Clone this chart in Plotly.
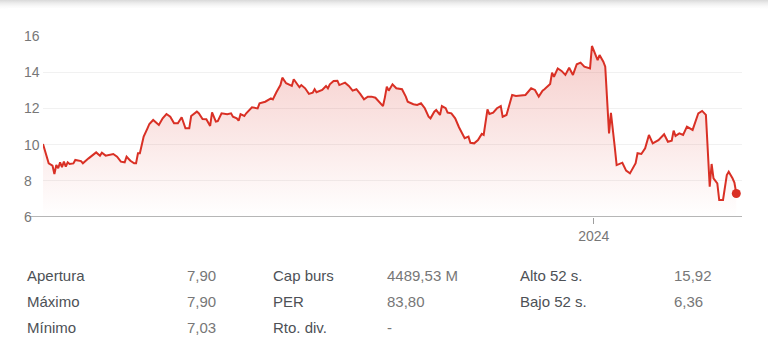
import plotly.graph_objects as go

# ---------------- data ----------------
dates = [
 "2023-03-17","2023-03-19","2023-03-20","2023-03-22","2023-03-23","2023-03-24","2023-03-25","2023-03-26","2023-03-27","2023-03-28",
 "2023-03-29","2023-03-30","2023-03-31","2023-04-02","2023-04-03","2023-04-06","2023-04-07","2023-04-10","2023-04-13","2023-04-14",
 "2023-04-16","2023-04-17","2023-04-19","2023-04-21","2023-04-23","2023-04-25","2023-04-27","2023-04-29","2023-04-30","2023-05-02",
 "2023-05-04","2023-05-05","2023-05-06","2023-05-07","2023-05-09","2023-05-11","2023-05-12","2023-05-14","2023-05-17","2023-05-19",
 "2023-05-21","2023-05-23","2023-05-25","2023-05-27","2023-05-29","2023-05-31","2023-06-02","2023-06-03","2023-06-06","2023-06-07",
 "2023-06-09","2023-06-11","2023-06-13","2023-06-14","2023-06-16","2023-06-17","2023-06-19","2023-06-22","2023-06-24","2023-06-25",
 "2023-06-27","2023-06-28","2023-06-29","2023-07-01","2023-07-02","2023-07-05","2023-07-08","2023-07-09","2023-07-12","2023-07-15",
 "2023-07-16","2023-07-18","2023-07-20","2023-07-21","2023-07-23","2023-07-26","2023-07-27","2023-07-30","2023-07-31","2023-08-02",
 "2023-08-04","2023-08-06","2023-08-07","2023-08-08","2023-08-11","2023-08-13","2023-08-14","2023-08-15","2023-08-17","2023-08-19",
 "2023-08-20","2023-08-23","2023-08-25","2023-08-27","2023-08-29","2023-08-31","2023-09-02","2023-09-04","2023-09-06","2023-09-08",
 "2023-09-11","2023-09-12","2023-09-13","2023-09-14","2023-09-15","2023-09-17","2023-09-19","2023-09-22","2023-09-24","2023-09-25",
 "2023-09-28","2023-09-30","2023-10-02","2023-10-04","2023-10-06","2023-10-07","2023-10-09","2023-10-10","2023-10-12","2023-10-13",
 "2023-10-15","2023-10-16","2023-10-18","2023-10-20","2023-10-22","2023-10-24","2023-10-25","2023-10-27","2023-10-28","2023-10-30",
 "2023-11-01","2023-11-03","2023-11-04","2023-11-06","2023-11-07","2023-11-09","2023-11-11","2023-11-13","2023-11-14","2023-11-16",
 "2023-11-19","2023-11-21","2023-11-24","2023-11-26","2023-11-29","2023-12-01","2023-12-03","2023-12-05","2023-12-06","2023-12-09",
 "2023-12-10","2023-12-11","2023-12-13","2023-12-15","2023-12-17","2023-12-19","2023-12-21","2023-12-23","2023-12-25","2023-12-27",
 "2023-12-30","2023-12-31","2024-01-03","2024-01-04","2024-01-06","2024-01-07","2024-01-09","2024-01-10","2024-01-12","2024-01-13",
 "2024-01-16","2024-01-18","2024-01-20","2024-01-22","2024-01-23","2024-01-24","2024-01-26","2024-01-28","2024-01-30","2024-02-01",
 "2024-02-04","2024-02-07","2024-02-09","2024-02-11","2024-02-12","2024-02-13","2024-02-15","2024-02-17","2024-02-19","2024-02-22",
 "2024-02-23","2024-02-25","2024-02-27","2024-02-29","2024-03-02","2024-03-03","2024-03-04","2024-03-06","2024-03-07","2024-03-09",
 "2024-03-11","2024-03-12","2024-03-14","2024-03-15","2024-03-16",
]

prices = [
 10.03, 9.33, 8.97, 8.84, 8.38, 8.87, 8.69, 9.02, 8.75, 9.06,
 8.78, 9.02, 8.93, 8.96, 9.15, 9.09, 8.97, 9.24, 9.46, 9.57,
 9.39, 9.55, 9.39, 9.42, 9.48, 9.33, 9.06, 9.02, 9.33, 9.11,
 8.97, 8.97, 9.52, 9.52, 10.44, 10.90, 11.14, 11.36, 11.08, 11.45,
 11.69, 11.54, 11.18, 11.18, 11.51, 10.90, 10.90, 11.58, 11.82, 11.73,
 11.41, 11.40, 11.03, 11.78, 11.27, 11.30, 11.73, 11.68, 11.73, 11.54,
 11.45, 11.32, 11.68, 11.58, 11.73, 12.06, 12.00, 12.28, 12.37, 12.55,
 12.50, 12.92, 13.29, 13.70, 13.39, 13.24, 13.61, 13.17, 13.29, 13.11,
 12.80, 12.87, 13.06, 12.89, 13.02, 13.24, 13.11, 13.33, 13.51, 13.53,
 13.29, 13.42, 13.24, 12.98, 13.06, 12.80, 12.50, 12.65, 12.65, 12.59,
 12.28, 12.13, 12.61, 13.20, 12.98, 13.33, 13.11, 13.06, 12.65, 12.37,
 12.23, 12.19, 12.28, 12.01, 11.54, 11.45, 11.82, 11.91, 11.64, 12.13,
 12.01, 11.77, 11.73, 11.45, 10.96, 10.53, 10.35, 10.44, 10.10, 10.07,
 10.25, 10.59, 10.53, 11.95, 11.69, 11.77, 12.01, 12.13, 11.54, 11.64,
 12.74, 12.69, 12.74, 12.74, 13.11, 13.02, 12.65, 12.98, 13.06, 13.35,
 13.97, 13.75, 14.21, 14.07, 13.85, 14.25, 13.85, 14.44, 14.53, 14.31,
 14.21, 15.45, 14.67, 14.95, 14.58, 14.31, 10.62, 11.76, 9.88, 8.87,
 9.00, 8.56, 8.41, 8.78, 8.97, 9.52, 9.48, 9.80, 10.53, 10.07,
 10.25, 10.57, 10.16, 10.22, 10.77, 10.48, 10.62, 10.53, 10.99, 10.81,
 11.08, 11.73, 11.86, 11.64, 7.67, 8.93, 8.14, 7.86, 6.94, 6.94,
 8.32, 8.50, 8.14, 7.90, 7.30,
]

y_ticks = [6, 8, 10, 12, 14, 16]
x_tick_dates = ["2024-01-01"]
x_tick_labels = ["2024"]
x_range = ["2023-03-17", "2024-03-19"]
y_range = [6, 16]

stat_rows = [
    ["Apertura", "Máximo", "Mínimo"],
    ["Cap burs", "PER", "Rto. div."],
    ["Alto 52 s.", "Bajo 52 s.", ""],
]
stat_values = [
    ["7,90", "7,90", "7,03"],
    ["4489,53 M", "83,80", "-"],
    ["15,92", "6,36", ""],
]

# ---------------- layout geometry (window pixels) ----------------
WIN_W, WIN_H = 768, 358
BODY = 8                      # default page margin around the plot div
W, H = WIN_W - BODY, WIN_H - BODY
PL, PR, PT, PB = 43, 742, 36, 217   # plot box in window pixels
pw, ph = PR - PL, PB - PT


def xp(px):
    return (px - PL) / pw


def yp(py):
    return (PB - py) / ph


RED = "#d93025"
FONT = "Arial, Liberation Sans, sans-serif"

fig = go.Figure()
fig.add_trace(go.Scatter(
    x=dates, y=prices, mode="lines",
    line=dict(color=RED, width=2),
    fill="tozeroy",
    fillgradient=dict(type="vertical",
                      colorscale=[[0, "rgba(217,48,37,0)"], [1, "rgba(217,48,37,0.24)"]],
                      start=y_range[0], stop=15.5),
    hoverinfo="skip", showlegend=False,
))
fig.add_trace(go.Scatter(
    x=[dates[-1]], y=[prices[-1]], mode="markers",
    marker=dict(color=RED, size=9), cliponaxis=False,
    hoverinfo="skip", showlegend=False,
))

annotations = []
for v in y_ticks:
    annotations.append(dict(
        x=xp(22), xref="paper", y=v, yref="y", text=str(v), showarrow=False,
        xanchor="left", yanchor="middle", font=dict(family=FONT, size=14, color="#777777")))

label_x = [25, 271, 518]
value_x = [185, 385, 672]
row_y = [275, 301, 327]
for c in range(3):
    for r in range(3):
        if stat_rows[c][r]:
            annotations.append(dict(
                x=xp(label_x[c]), xref="paper", y=yp(row_y[r]), yref="paper",
                text=stat_rows[c][r], showarrow=False, xanchor="left", yanchor="middle",
                font=dict(family=FONT, size=15, color="#4d5156")))
        if stat_values[c][r]:
            annotations.append(dict(
                x=xp(value_x[c]), xref="paper", y=yp(row_y[r]), yref="paper",
                text=stat_values[c][r], showarrow=False, xanchor="left", yanchor="middle",
                font=dict(family=FONT, size=15, color="#777777")))

shapes = [
    dict(type="line", xref="paper", yref="y", x0=xp(30), x1=1, y0=y_range[0], y1=y_range[0],
         line=dict(color="#9e9e9e", width=1.3), layer="above"),
]

fig.update_layout(
    width=W, height=H,
    margin=dict(l=PL - BODY, r=(W + BODY) - PR, t=PT - BODY, b=(H + BODY) - PB, autoexpand=False),
    paper_bgcolor="white", plot_bgcolor="white",
    font=dict(family=FONT),
    xaxis=dict(
        type="date", range=x_range, tickvals=x_tick_dates, ticktext=x_tick_labels,
        ticks="outside", ticklen=6, tickcolor="#9e9e9e", tickwidth=1,
        showgrid=False, showline=False, zeroline=False,
        tickfont=dict(family=FONT, size=14, color="#777777"),
        fixedrange=True,
    ),
    yaxis=dict(
        range=y_range, tickvals=y_ticks, showticklabels=False,
        showgrid=True, gridcolor="#f1f1f1", gridwidth=1,
        zeroline=False, showline=False, ticks="",
        fixedrange=True,
    ),
    annotations=annotations,
    shapes=shapes,
    showlegend=False,
)

# soft grey shadow along the top edge of the page (header shadow in the reference)
top_shadow = ("document.body.style.background="
              "'linear-gradient(to bottom,#d9d9d9 0px,#ececec 3px,#f8f8f8 6px,#ffffff 9px) no-repeat #ffffff';")

fig.write_html("out.html", post_script=top_shadow)
